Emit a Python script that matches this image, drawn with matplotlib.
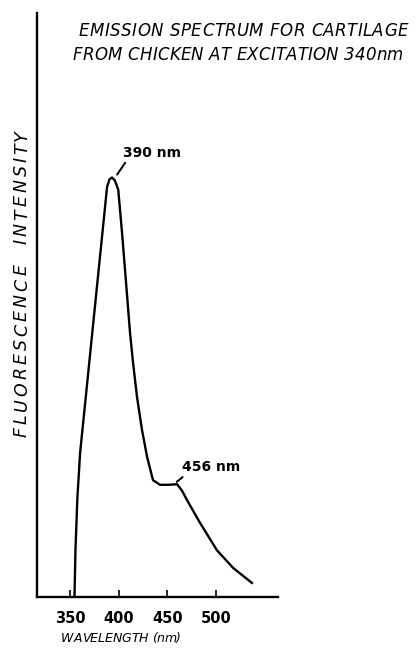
import matplotlib
matplotlib.use("Agg")
import matplotlib.pyplot as plt
from matplotlib.transforms import IdentityTransform

# Emission spectrum values
wavelength = [354.5, 355.5, 357.5, 360.3, 388.0, 390.5, 393.1, 396.0,
              399.5, 403.4, 407.5, 411.6, 414.7, 418.8, 423.9, 429.1,
              435.2, 442.4, 451.0, 459.9, 465.0, 470.1, 483.5, 500.9,
              517.4, 536.9]
intensity = [0.0, 8.0, 17.0, 24.7, 70.2, 71.5, 71.8, 71.3,
             69.7, 62.3, 53.8, 45.2, 40.1, 34.2, 28.6, 24.0,
             20.0, 19.2, 19.2, 19.3, 18.2, 16.6, 12.7, 8.0,
             5.0, 2.4]

tick_values = [350, 400, 450, 500]
title_lines = ["EMISSION SPECTRUM FOR CARTILAGE",
               "FROM CHICKEN AT EXCITATION 340nm"]
y_label = "FLUORESCENCE  INTENSITY"
x_label = "WAVELENGTH (nm)"
peak_labels = ["390 nm", "456 nm"]
peak_points = [(398.3, 72.3), (459.6, 19.7)]
label_points = [(404.4, 74.8), (465.0, 21.0)]

W, H = 416, 652
fig = plt.figure(figsize=(W / 100, H / 100), dpi=100)
ax = fig.add_axes([0.089, 0.0844, 0.58, 0.896])
renderer = fig.canvas.get_renderer()


def spaced_text(s, x0, y0, length, vertical=False, fontsize=10, **kw):
    # draw a string letter by letter so it fills a given length (pixels)
    kw.setdefault("fontstyle", "italic")
    space = 0.32 * fontsize * 100 / 72
    sizes = []
    for ch in s:
        if ch == " ":
            sizes.append(space)
            continue
        t = fig.text(0, 0, ch, fontsize=fontsize, **kw)
        sizes.append(t.get_window_extent(renderer).width)
        t.remove()
    extra = (length - sum(sizes)) / (len(s) - 1)
    pos = 0.0
    for ch, w in zip(s, sizes):
        if ch != " ":
            if vertical:
                fig.text(x0, y0 + pos + w / 2, ch, rotation=90, ha="center",
                         va="center", fontsize=fontsize,
                         transform=IdentityTransform(), **kw)
            else:
                fig.text(x0 + pos, y0, ch, ha="left", va="baseline",
                         fontsize=fontsize, transform=IdentityTransform(), **kw)
        pos += w + extra


ax.plot(wavelength, intensity, color="black", lw=1.7, solid_joinstyle="round")

ax.set_xlim(316, 564)
ax.set_ylim(0, 100)
for side in ["top", "right"]:
    ax.spines[side].set_visible(False)
for side in ["left", "bottom"]:
    ax.spines[side].set_linewidth(1.7)

ax.set_yticks([])
ax.set_xticks(tick_values)
ax.set_xticklabels([str(v) for v in tick_values], fontweight="bold", fontsize=10.5)
ax.tick_params(axis="x", direction="in", length=5, width=1.2, pad=10)

# titles and axis labels in spaced italic lettering
spaced_text(title_lines[0], 79, H - 36, 329, fontsize=12)
spaced_text(title_lines[1], 73, H - 60, 330, fontsize=12)
spaced_text(y_label, 22, H - 437, 307, vertical=True, fontsize=12.5)
spaced_text(x_label, 61, H - 642, 120, fontsize=9)

# peak annotations with short leader lines
for label, pt, lp in zip(peak_labels, peak_points, label_points):
    ax.annotate(label, xy=pt, xytext=lp, fontsize=10, fontweight="bold",
                va="bottom", ha="left",
                arrowprops=dict(arrowstyle="-", color="black", lw=1.4,
                                shrinkA=0, shrinkB=0, relpos=(0.07, 0.0)))

fig.savefig("out.png", dpi=100)
